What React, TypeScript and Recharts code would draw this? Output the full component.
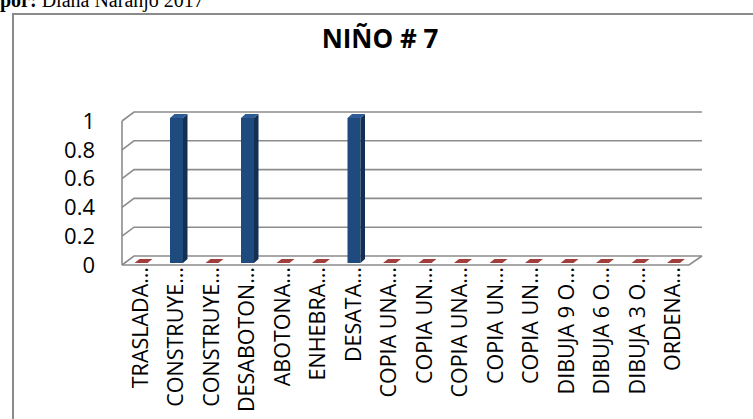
import React from "react";
import { BarChart, Bar, XAxis, YAxis, CartesianGrid } from "recharts";

const categories = [
  "TRASLADA…",
  "CONSTRUYE…",
  "CONSTRUYE…",
  "DESABOTON…",
  "ABOTONA…",
  "ENHEBRA…",
  "DESATA…",
  "COPIA UNA…",
  "COPIA UN…",
  "COPIA UNA…",
  "COPIA UN…",
  "COPIA UN…",
  "DIBUJA 9 O…",
  "DIBUJA 6 O…",
  "DIBUJA 3 O…",
  "ORDENA…",
];
const values = [0, 1, 0, 1, 0, 0, 1, 0, 0, 0, 0, 0, 0, 0, 0, 0];
const yTicks = [0, 0.2, 0.4, 0.6, 0.8, 1];

const data = categories.map((name, i) => ({ name, value: values[i] }));

const FONT = "'Open Sans', 'Noto Sans', sans-serif";
const GRID = "#8c8c8c";
// depth of the 3D walls
const DX = 12;
const DY = 9;

// 3D-looking gridline: slanted side wall segment + back wall line
const gridLine = (p: any) => {
  const { x1, x2, y1, index } = p;
  const isFloor = Math.abs(y1 - (p.y + p.height)) < 1;
  return (
    <g key={`g-${index}`}>
      <path
        d={`M${x1},${y1} L${x1 + DX},${y1 - DY} L${x2 + DX},${y1 - DY}`}
        stroke={GRID}
        strokeWidth={1.6}
        fill="none"
      />
      {isFloor && (
        <path
          d={`M${x1},${y1} L${x2 - 1},${y1} L${x2 + DX},${y1 - DY}`}
          stroke={GRID}
          strokeWidth={1.6}
          fill="none"
        />
      )}
    </g>
  );
};

// 3D column; zero values show as a flat red slab on the floor
const Column3D = (p: any) => {
  const { x, y, width, height, value } = p;
  const fx = x + 1.5;
  const bottom = y + height - 2;
  if (!value) {
    return (
      <path
        d={`M${fx},${bottom} L${fx + width},${bottom} L${fx + width + 5},${bottom - 4} L${fx + 5},${bottom - 4} Z`}
        fill="#a33d3b"
      />
    );
  }
  const top = y - 3;
  const dx = 4.5;
  const dy = 4;
  return (
    <g>
      <rect x={fx} y={top} width={width} height={bottom - top} fill="#1f4a7e" />
      <path
        d={`M${fx + width},${top} L${fx + width + dx},${top - dy} L${fx + width + dx},${bottom - dy} L${fx + width},${bottom} Z`}
        fill="#142f54"
      />
      <path
        d={`M${fx},${top} L${fx + dx},${top - dy} L${fx + width + dx},${top - dy} L${fx + width},${top} Z`}
        fill="#2d5b93"
      />
    </g>
  );
};

const CategoryTick = (p: any) => {
  const { x, y, payload } = p;
  return (
    <g transform={`translate(${x},${y}) rotate(-90)`}>
      <text
        textAnchor="end"
        dy="0.36em"
        fontFamily={FONT}
        fontSize={21.5}
        fill="#000"
      >
        {payload.value}
      </text>
    </g>
  );
};

export default function App() {
  return (
    <div
      style={{
        position: "fixed",
        left: 0,
        top: 0,
        width: 753,
        height: 419,
        background: "#fff",
        overflow: "hidden",
      }}
    >
      <div
        style={{
          position: "absolute",
          left: 0,
          top: -10,
          fontFamily: "'Liberation Serif', 'Times New Roman', serif",
          fontSize: 20,
          lineHeight: "20px",
          whiteSpace: "nowrap",
          color: "#000",
        }}
      >
        <b>por:</b> Diana Naranjo 2017
      </div>
      <div
        style={{
          position: "absolute",
          left: 12,
          top: 13,
          width: 760,
          height: 420,
          borderLeft: "2px solid #8a8a8a",
          borderTop: "2px solid #8a8a8a",
        }}
      />
      <div
        style={{
          position: "absolute",
          left: 280,
          width: 200,
          top: 23,
          textAlign: "center",
          fontFamily: FONT,
          fontWeight: 700,
          fontSize: 26,
          lineHeight: "30px",
          color: "#000",
        }}
      >
        NIÑO # 7
      </div>
      <div style={{ position: "absolute", left: 0, top: 0 }}>
        <BarChart
          width={753}
          height={419}
          data={data}
          margin={{ top: 121, right: 63, left: 22, bottom: 4 }}
          barSize={13}
        >
          <CartesianGrid vertical={false} horizontal={gridLine} />
          <XAxis
            dataKey="name"
            interval={0}
            axisLine={false}
            tickLine={false}
            tickSize={0}
            tickMargin={2}
            height={150}
            tick={<CategoryTick />}
          />
          <YAxis
            domain={[0, 1]}
            ticks={yTicks}
            interval={0}
            width={100}
            axisLine={{ stroke: GRID, strokeWidth: 1.6 }}
            tickLine={false}
            tickSize={0}
            tickMargin={27}
            tick={{ fontFamily: FONT, fontSize: 22, fill: "#000" }}
          />
          <Bar
            dataKey="value"
            shape={<Column3D />}
            isAnimationActive={false}
          />
        </BarChart>
      </div>
    </div>
  );
}
